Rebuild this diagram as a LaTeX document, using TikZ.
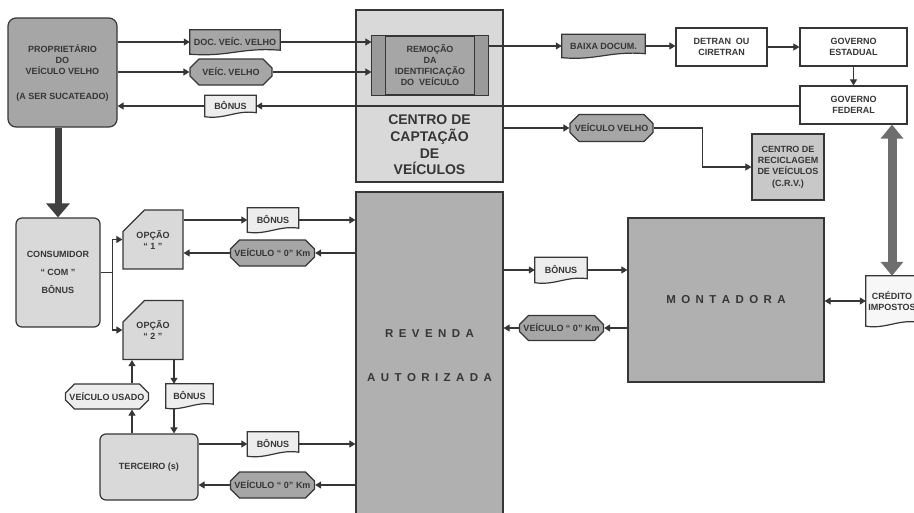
\documentclass[tikz,border=0pt]{standalone}
\usepackage{fontspec}
\setmainfont{Liberation Sans}
\usetikzlibrary{arrows.meta,shapes.misc,calc,backgrounds}

\definecolor{ink}{HTML}{363636}
\definecolor{gmid}{HTML}{A6A6A6}
\definecolor{gbar}{HTML}{9A9A9A}
\definecolor{gbox}{HTML}{B0B0B0}
\definecolor{gcrv}{HTML}{C8C8C8}
\definecolor{glight}{HTML}{D9D9D9}
\definecolor{gpale}{HTML}{EDEDED}
\definecolor{gpaper}{HTML}{F7F7F7}
\definecolor{gdark}{HTML}{404040}
\definecolor{gbig}{HTML}{6E6E6E}

\newcommand\widespaces{\spaceskip 0.47em\relax}

\begin{document}
\begin{tikzpicture}[
    x=1pt, y=-1pt,
    every node/.style={font=\bfseries\fontsize{9}{11}\selectfont, text=ink, align=center, inner sep=0pt},
    block/.style={rectangle, draw=ink, line width=1.2pt},
    rblock/.style={block, rounded corners=6pt, fill=glight},
    docbox/.style={rectangle},
    tag/.style={chamfered rectangle, chamfered rectangle xsep=5pt, chamfered rectangle ysep=5pt, draw=ink, line width=1.2pt, fill=gmid},
    option/.style={chamfered rectangle, chamfered rectangle corners=north west, chamfered rectangle xsep=12pt, chamfered rectangle ysep=12pt, draw=ink, line width=1.2pt, fill=glight},
    wave/.style={draw=ink, line width=1.2pt},
    flow/.style={-{Triangle[length=6pt,width=7pt]}, line width=1.1pt, draw=ink},
    both/.style={{Triangle[length=6pt,width=7pt]}-{Triangle[length=6pt,width=7pt]}, line width=1.1pt, draw=ink},
    bigflow/.style={-{Triangle[length=14pt,width=23pt]}, line width=7pt, draw=gdark},
    bigboth/.style={{Triangle[length=14pt,width=22pt]}-{Triangle[length=14pt,width=22pt]}, line width=9pt, draw=gbig},
    spaced/.style={font=\bfseries\fontsize{11.5}{44}\selectfont\widespaces}
]
\useasboundingbox (0,0) rectangle (914,512);

% owner and capture centre
\node[block, rounded corners=8pt, fill=gmid, minimum width=109pt, minimum height=109pt] (owner) at (62.5,72.5) {PROPRIETÁRIO\\DO\\VEÍCULO VELHO\\[14pt](A SER SUCATEADO)};
\node[block, fill=glight, minimum width=147pt, minimum height=172pt] (centro) at (429.5,96) {};
\node[font=\bfseries\fontsize{14}{16.7}\selectfont] (centrotxt) at (429.5,145) {CENTRO DE\\CAPTAÇÃO\\DE\\VEÍCULOS};
\node[block, fill=gmid, minimum width=116pt, minimum height=59pt] (remocao) at (430,65.5) {REMOÇÃO\\DA\\IDENTIFICAÇÃO\\DO~ VEÍCULO};
\draw[block, fill=gbar] (remocao.north west) rectangle ($(remocao.south west)+(14,0)$);
\draw[block, fill=gbar] (remocao.north east) rectangle ($(remocao.south east)+(-14,0)$);

\node[docbox, minimum width=90pt, minimum height=24pt] (docold) at (235,42) {DOC. VEÍC. VELHO};
\node[tag, minimum width=82pt, minimum height=26pt] (vehold) at (231,72) {VEÍC. VELHO};
\node[docbox, minimum width=51pt, minimum height=21pt] (bonustop) at (230.5,106) {BÔNUS};
\node[docbox, minimum width=83pt, minimum height=23pt] (baixa) at (603.5,46) {BAIXA DOCUM.};
\node[block, fill=white, minimum width=91pt, minimum height=38pt] (detran) at (721.5,47) {DETRAN~ OU\\CIRETRAN};
\node[block, fill=white, minimum width=107pt, minimum height=38pt] (gest) at (853.5,47) {GOVERNO\\ESTADUAL};
\node[block, fill=white, minimum width=107pt, minimum height=38pt] (gfed) at (853.5,105) {GOVERNO\\FEDERAL};
\node[tag, minimum width=83pt, minimum height=27pt] (vehscrap) at (611.5,128) {VEÍCULO VELHO};
\node[block, fill=gcrv, minimum width=72pt, minimum height=66pt, font=\bfseries\fontsize{9}{11.3}\selectfont] (crv) at (788,167) {CENTRO DE\\RECICLAGEM\\DE VEÍCULOS\\(C.R.V.)};

% dealer and manufacturer
\node[block, fill=gbox, minimum width=147pt, minimum height=328pt, spaced] (revenda) at (429.5,356) {R E V E N D A\\A U T O R I Z A D A};
\node[block, fill=gbox, minimum width=196pt, minimum height=164pt, spaced] (montadora) at (726,300) {M O N T A D O R A};
\node[docbox, minimum width=52pt, minimum height=25pt] (bonusfab) at (561,270) {BÔNUS};
\node[tag, minimum width=83pt, minimum height=25pt] (zerofab) at (561.5,328) {VEÍCULO “ 0” Km};
\node[docbox, minimum width=52pt, minimum height=50pt] (credito) at (892,301) {CRÉDITO\\IMPOSTOS};

% buyers
\node[rblock, minimum width=84pt, minimum height=109pt] (consumidor) at (58,272.5) {CONSUMIDOR\\[7pt]“ COM ”\\[7pt]BÔNUS};
\node[option, minimum width=60pt, minimum height=59pt] (opone) at (153,239.5) {OPÇÃO\\“ 1 ”};
\node[option, minimum width=60pt, minimum height=59pt] (optwo) at (153,330) {OPÇÃO\\“ 2 ”};
\node[docbox, minimum width=51pt, minimum height=24pt] (bonusone) at (273,220) {BÔNUS};
\node[tag, minimum width=81pt, minimum height=26pt] (zeroone) at (272.5,253) {VEÍCULO “ 0” Km};
\node[docbox, minimum width=47pt, minimum height=24pt] (bonustwo) at (189.5,396) {BÔNUS};
\node[tag, fill=gpale, minimum width=82pt, minimum height=25pt] (usado) at (107,396.5) {VEÍCULO USADO};
\node[rblock, minimum width=98pt, minimum height=66pt] (terceiro) at (149,467) {TERCEIRO (s)};
\node[docbox, minimum width=51pt, minimum height=24pt] (bonusthree) at (273,444) {BÔNUS};
\node[tag, minimum width=81pt, minimum height=26pt] (zerothree) at (272.5,485) {VEÍCULO “ 0” Km};

% document outlines
\begin{scope}[on background layer]
  \foreach \n/\tone in {docold/gmid, bonustop/gpale, baixa/gmid, bonusfab/gpale, credito/gpaper, bonusone/gpale, bonustwo/gpale, bonusthree/gpale}
    \draw[wave, fill=\tone] (\n.north west) -- (\n.north east) -- ($(\n.south east)+(0,-4)$)
      .. controls ($(\n.south)+(6,-7)$) and ($(\n.south)+(-6,3)$) .. (\n.south west) -- cycle;
\end{scope}

% top flows
\draw[flow] (owner.east |- docold.west) -- (docold.west);
\draw[flow] (docold.east) -- (remocao.west |- docold.east);
\draw[flow] (owner.east |- vehold.west) -- (vehold.west);
\draw[flow] (vehold.east) -- (remocao.west |- vehold.east);
\draw[flow] (gfed.west |- bonustop.east) -- (bonustop.east);
\draw[flow] (bonustop.west) -- (owner.east |- bonustop.west);
\draw[flow] (remocao.east |- baixa.west) -- (baixa.west);
\draw[flow] (baixa.east) -- (detran.west |- baixa.east);
\draw[flow] (detran.east) -- (gest.west);
\draw[flow] (gest.south) -- (gfed.north);
\draw[flow] (centro.east |- vehscrap.west) -- (vehscrap.west);
\draw[flow] (vehscrap.east) -- ++(49,0) |- (crv.west);
\draw[bigboth] (gfed.south -| credito.north) -- (credito.north);
\draw[bigflow] (owner.south -| consumidor.north) -- (consumidor.north);

% buyer flows
\draw[line width=1.1pt, draw=ink] (consumidor.east) -- ++(12,0) coordinate (fork);
\draw[flow] (fork) |- (opone.west);
\draw[flow] (fork) |- (optwo.west);
\draw[flow] (opone.east |- bonusone.west) -- (bonusone.west);
\draw[flow] (bonusone.east) -- (revenda.west |- bonusone.east);
\draw[flow] (revenda.west |- zeroone.east) -- (zeroone.east);
\draw[flow] (zeroone.west) -- (opone.east |- zeroone.west);
\coordinate (opright) at ($(optwo.south)+(21,0)$);
\coordinate (opleft) at ($(optwo.south)+(-21,0)$);
\draw[flow] (opright) -- (opright |- bonustwo.north);
\draw[flow] (opright |- bonustwo.south) -- (opright |- terceiro.north);
\draw[flow] (opleft |- terceiro.north) -- (opleft |- usado.south);
\draw[flow] (opleft |- usado.north) -- (opleft);
\draw[flow] (terceiro.east |- bonusthree.west) -- (bonusthree.west);
\draw[flow] (bonusthree.east) -- (revenda.west |- bonusthree.east);
\draw[flow] (revenda.west |- zerothree.east) -- (zerothree.east);
\draw[flow] (zerothree.west) -- (terceiro.east |- zerothree.west);

% dealer flows
\draw[flow] (revenda.east |- bonusfab.west) -- (bonusfab.west);
\draw[flow] (bonusfab.east) -- (montadora.west |- bonusfab.east);
\draw[flow] (montadora.west |- zerofab.east) -- (zerofab.east);
\draw[flow] (zerofab.west) -- (revenda.east |- zerofab.west);
\draw[both] (montadora.east |- credito.west) -- (credito.west);
\end{tikzpicture}
\end{document}
